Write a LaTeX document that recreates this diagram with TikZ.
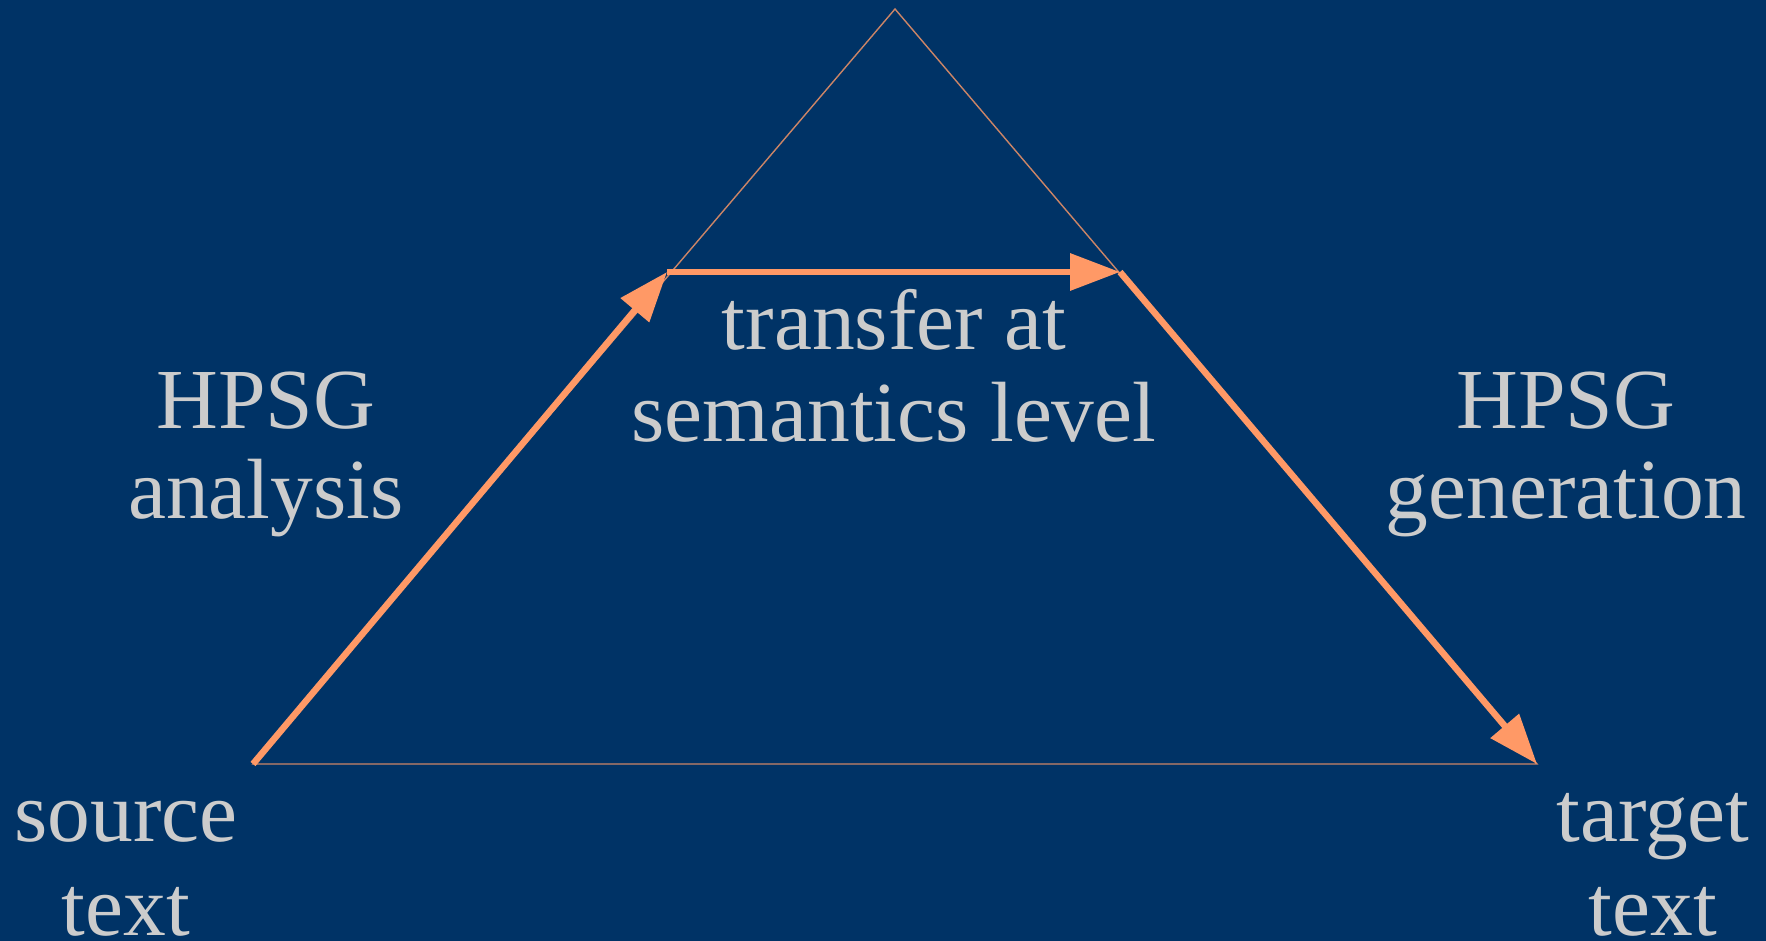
\documentclass[tikz,border=0pt]{standalone}
\usepackage{fontspec}
\setmainfont{Liberation Serif}
\usetikzlibrary{arrows.meta}
\definecolor{bgblue}{HTML}{003366}
\definecolor{arrorange}{HTML}{FF9966}
\definecolor{txtgrey}{HTML}{CCCCCC}
\begin{document}
\begin{tikzpicture}[x=1pt,y=-1pt,
  thinedge/.style={draw=arrorange!80!bgblue,line width=1.4pt},
  bigarrow/.style={draw=arrorange,line width=6.5pt,-{Triangle[length=50pt,width=36pt]}},
  lbl/.style={text=txtgrey,font=\fontsize{85.5}{92}\selectfont,anchor=base,inner sep=0pt}]
\fill[bgblue] (0,0) rectangle (1766,941);
\useasboundingbox (0,0) rectangle (1766,941);
\coordinate (src) at (253,764);
\coordinate (apex) at (895,9);
\coordinate (tgt) at (1537,764);
\coordinate (ml) at (667,272);
\coordinate (mr) at (1120,272);
\draw[thinedge] (src) -- (apex) -- (tgt) -- cycle;
\draw[bigarrow] (src) -- (ml);
\draw[bigarrow] (ml) -- (mr);
\draw[bigarrow] (mr) -- (tgt);
\node[lbl] (ana1) at (266,428) {HPSG};
\node[lbl] (ana2) at (266,518) {analysis};
\node[lbl] (tr1) at (894,349) {transfer at};
\node[lbl] (tr2) at (894,441) {semantics level};
\node[lbl] (gen1) at (1566,428) {HPSG};
\node[lbl] (gen2) at (1566,518) {generation};
\node[lbl] (src1) at (126,841) {source};
\node[lbl] (src2) at (126,935) {text};
\node[lbl] (tgt1) at (1653,841) {target};
\node[lbl] (tgt2) at (1653,935) {text};
\end{tikzpicture}
\end{document}
